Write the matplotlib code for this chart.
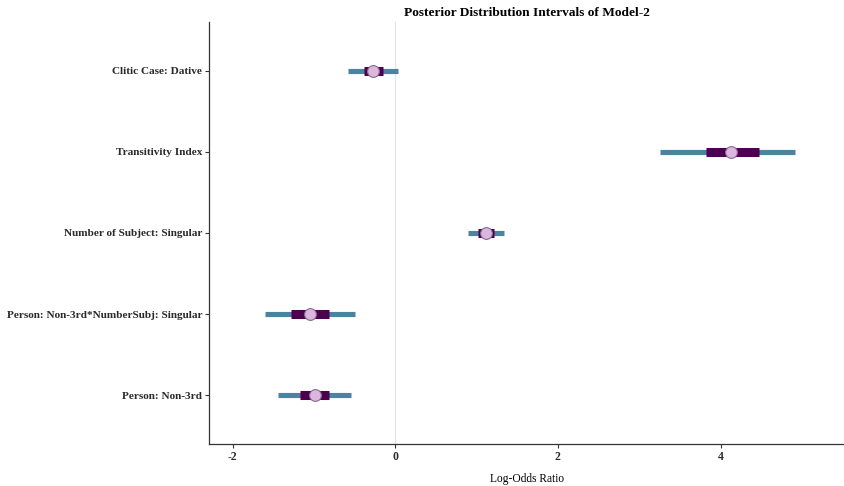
import matplotlib.pyplot as plt
import numpy as np

# Parameters from bottom to top
labels = ['Person: Non-3rd', 'Person: Non-3rd*NumberSubj: Singular',
          'Number of Subject: Singular', 'Transitivity Index', 'Clitic Case: Dative']
median = [-0.99, -1.05, 1.12, 4.13, -0.27]
inner_lo = [-1.17, -1.28, 1.02, 3.82, -0.39]
inner_hi = [-0.81, -0.82, 1.22, 4.47, -0.15]
outer_lo = [-1.44, -1.60, 0.89, 3.26, -0.58]
outer_hi = [-0.55, -0.50, 1.34, 4.92, 0.04]
xticks = [-2, 0, 2, 4]

plt.rcParams['font.family'] = ['Liberation Serif', 'DejaVu Serif']

fig = plt.figure(figsize=(8.45, 4.86), dpi=100)
ax = fig.add_axes([209 / 845, 1 - 444 / 486, 636 / 845, 422 / 486])

ax.axvline(0, color='#e3e3e3', lw=0.8, zorder=0)

y = np.arange(1, len(labels) + 1)
for i in range(len(labels)):
    ax.plot([outer_lo[i], outer_hi[i]], [y[i], y[i]], color='#4b84a0', lw=3.7,
            solid_capstyle='butt', zorder=1)
    ax.plot([inner_lo[i], inner_hi[i]], [y[i], y[i]], color='#4d0050', lw=6.5,
            solid_capstyle='butt', zorder=2)
ax.scatter(median, y, s=72, color='#dab8de', edgecolors='#8a6a90', linewidths=0.8, zorder=3)

ax.set_xlim(-2.29, 5.53)
ax.set_ylim(0.4, 5.6)
ax.set_xticks(xticks)
ax.set_xticklabels([str(t) for t in xticks], fontweight='bold', fontsize=8.5, color='#2a2a2a')
ax.set_yticks(y)
ax.set_yticklabels(labels, fontweight='bold', fontsize=8.1, color='#2a2a2a')
ax.tick_params(axis='both', length=3, width=0.8, color='#333333', pad=2)

for s in ['top', 'right']:
    ax.spines[s].set_visible(False)
for s in ['left', 'bottom']:
    ax.spines[s].set_color('#333333')
    ax.spines[s].set_linewidth(0.9)

ax.set_xlabel('Log-Odds Ratio', fontsize=8.3, labelpad=7)
ax.set_title('Posterior Distribution Intervals of Model-2', fontweight='bold', fontsize=9.6, pad=4)

fig.savefig('out.png', dpi=100)
